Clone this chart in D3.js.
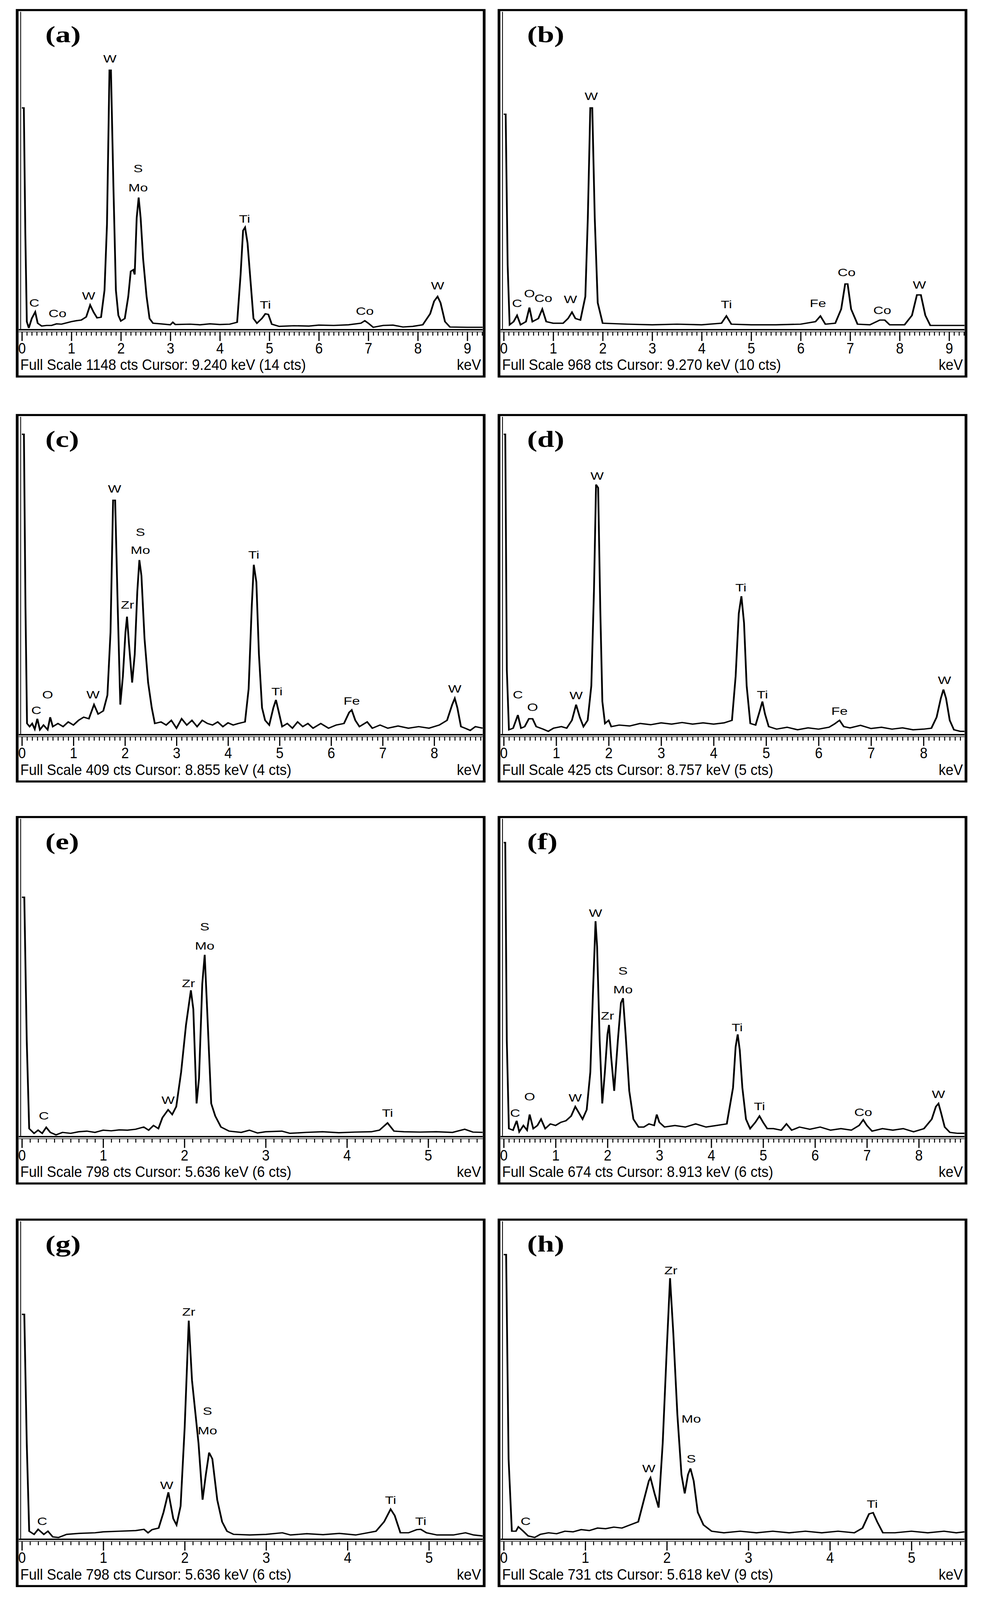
<!DOCTYPE html>
<html><head><meta charset="utf-8">
<script src="https://cdn.jsdelivr.net/npm/d3@7"></script>
<style>html,body{margin:0;background:#fff;overflow:hidden}svg{display:block}</style>
</head><body>
<script>
// Panel identifiers
const panelIds = ["a","b","c","d","e","f","g","h"];
// X-axis maximum (keV) visible in each panel
const xMax = [9.31, 9.31, 8.94, 8.78, 5.67, 8.88, 5.66, 5.65];
// Major tick labels per panel
const tickLabels = [
  [0,1,2,3,4,5,6,7,8,9],[0,1,2,3,4,5,6,7,8,9],
  [0,1,2,3,4,5,6,7,8],[0,1,2,3,4,5,6,7,8],
  [0,1,2,3,4,5],[0,1,2,3,4,5,6,7,8],
  [0,1,2,3,4,5],[0,1,2,3,4,5]];
// Footer texts
const footers = [
  "Full Scale 1148 cts  Cursor: 9.240 keV (14 cts)",
  "Full Scale 968 cts  Cursor: 9.270 keV (10 cts)",
  "Full Scale 409 cts  Cursor: 8.855 keV (4 cts)",
  "Full Scale 425 cts  Cursor: 8.757 keV (5 cts)",
  "Full Scale 798 cts  Cursor: 5.636 keV (6 cts)",
  "Full Scale 674 cts  Cursor: 8.913 keV (6 cts)",
  "Full Scale 798 cts  Cursor: 5.636 keV (6 cts)",
  "Full Scale 731 cts  Cursor: 5.618 keV (9 cts)"];

// Spectra: [energy keV, intensity % of full scale]
const specA = [[0,70],[0.04,70],[0.07,30],[0.1,2],[0.14,0],[0.2,3],[0.27,5.1],[0.32,1.5],[0.4,0.6],[0.5,0.8],[0.6,0.8],[0.7,1.3],[0.8,1.2],[0.9,1.6],[1.0,2],[1.1,2.3],[1.2,2.5],[1.3,3.5],[1.38,7.3],[1.45,5],[1.52,3.2],[1.6,3.4],[1.67,12],[1.72,33],[1.77,82],[1.8,82],[1.85,45],[1.9,12],[1.95,4],[2.0,2.2],[2.08,3],[2.15,10],[2.2,18],[2.25,18.5],[2.28,17],[2.32,35],[2.36,41.5],[2.4,35],[2.45,22],[2.52,10],[2.58,3],[2.65,1.5],[2.8,1.3],[3.0,1.0],[3.05,1.8],[3.1,1.1],[3.4,1.2],[3.6,1.0],[3.8,1.3],[4.0,1.1],[4.2,1.2],[4.35,1.8],[4.42,17],[4.47,31],[4.51,32],[4.56,27],[4.62,15],[4.68,3],[4.75,1.5],[4.85,3],[4.92,4.5],[4.98,4.3],[5.05,1.2],[5.2,0.5],[5.5,0.7],[5.8,0.6],[6.0,0.9],[6.3,0.8],[6.6,1.0],[6.85,1.5],[6.93,2.3],[7.0,1.5],[7.1,0.2],[7.3,0.8],[7.5,0.9],[7.7,0.3],[7.9,0.5],[8.1,1],[8.25,4.5],[8.33,8.5],[8.4,10],[8.46,8],[8.55,2],[8.65,0.3],[9.0,0.2],[9.31,0.2]];
const specB = [[0,68],[0.04,68],[0.08,20],[0.12,1],[0.2,2],[0.27,4],[0.34,1],[0.45,2],[0.52,6.5],[0.58,2],[0.7,3],[0.78,6],[0.86,2],[1.0,1.5],[1.2,1.5],[1.3,3],[1.38,5],[1.45,3],[1.55,2.5],[1.65,10],[1.7,35],[1.75,70],[1.79,70],[1.84,35],[1.9,8],[2.0,1.5],[2.5,1.2],[3.0,1],[3.5,1.2],[4.0,1],[4.4,1.5],[4.5,3.8],[4.6,1.2],[5.0,1],[5.5,1],[6.0,1.2],[6.3,2],[6.4,3.8],[6.5,1.2],[6.7,1.5],[6.82,6],[6.9,14],[6.95,14],[7.02,6],[7.15,1.2],[7.4,1],[7.6,2.5],[7.7,2.5],[7.8,1],[8.1,1],[8.25,4],[8.35,10.5],[8.43,10.5],[8.52,4],[8.62,0.8],[9.0,0.8],[9.31,0.8]];
const specC = [[0,95],[0.04,95],[0.07,40],[0.1,3],[0.15,2],[0.2,3],[0.25,1.2],[0.3,4.5],[0.35,1],[0.42,2.5],[0.5,1],[0.55,5],[0.6,2],[0.7,3],[0.8,2],[0.9,3.5],[1.0,2.5],[1.1,4],[1.2,5],[1.3,4.5],[1.4,9],[1.48,6],[1.58,7],[1.66,12],[1.72,32],[1.77,74],[1.81,74],[1.86,40],[1.91,9],[1.96,18],[2.01,32],[2.04,37],[2.08,28],[2.14,16],[2.19,25],[2.24,45],[2.28,55],[2.32,50],[2.38,30],[2.45,16],[2.52,8],[2.58,3],[2.7,3.5],[2.8,2.5],[2.9,4],[3.0,1.5],[3.1,4.5],[3.2,2.5],[3.3,4],[3.4,2],[3.5,4],[3.6,3],[3.7,2.5],[3.8,3.5],[3.9,2],[4.0,3.2],[4.1,2.5],[4.2,3],[4.33,3.5],[4.4,14],[4.46,40],[4.5,53.5],[4.55,48],[4.6,25],[4.66,8],[4.72,4],[4.8,2.5],[4.88,8],[4.93,10.5],[4.98,7],[5.05,2],[5.15,3],[5.25,1.5],[5.35,3.5],[5.45,2],[5.55,3],[5.65,1.5],[5.8,3],[5.95,1.5],[6.1,2.5],[6.25,3],[6.35,6.5],[6.4,7.3],[6.47,4],[6.55,2],[6.7,3.5],[6.8,1.5],[6.95,2.5],[7.1,1.5],[7.3,2.2],[7.5,1.5],[7.7,2],[7.9,1.5],[8.1,2.5],[8.25,4],[8.35,9],[8.4,11],[8.45,8],[8.52,2],[8.6,1.5],[8.7,0.8],[8.8,2],[8.94,1.5]];
const specD = [[0,95],[0.03,95],[0.06,20],[0.1,1],[0.18,1.5],[0.27,5.7],[0.33,1.5],[0.4,2],[0.48,4.5],[0.55,4.5],[0.62,2],[0.75,1.2],[0.85,0.5],[0.95,1.5],[1.1,2],[1.2,1.5],[1.3,4],[1.38,9],[1.45,5],[1.52,2],[1.6,4],[1.67,15],[1.72,45],[1.76,79],[1.8,78],[1.84,40],[1.88,10],[1.93,3],[2.0,4],[2.05,2],[2.2,2.5],[2.4,2.2],[2.6,3],[2.8,2.6],[3.0,3.2],[3.2,2.8],[3.4,3.3],[3.6,2.8],[3.8,3.2],[4.0,2.8],[4.2,3.2],[4.35,4],[4.42,18],[4.48,38],[4.53,43.5],[4.58,35],[4.63,15],[4.7,3],[4.8,2.5],[4.88,7],[4.93,10],[4.98,6],[5.05,2],[5.2,1.2],[5.4,1.8],[5.6,1],[5.8,1.6],[6.0,1.2],[6.2,1.8],[6.3,2.8],[6.4,4],[6.48,2],[6.6,1.6],[6.8,2.4],[7.0,1.4],[7.2,1.8],[7.4,1.2],[7.6,1.6],[7.8,1],[8.0,1.2],[8.15,1.5],[8.25,5],[8.33,11],[8.38,13.8],[8.43,11],[8.5,4],[8.58,1],[8.7,0.5],[8.78,0.5]];
const specE = [[0,75.6],[0.03,75.6],[0.06,30],[0.09,2],[0.15,0.5],[0.2,1.5],[0.25,0.5],[0.3,2.4],[0.35,0.8],[0.42,0],[0.5,0.8],[0.6,0.5],[0.7,1],[0.8,1.2],[0.9,0.8],[1.0,1.5],[1.1,1.3],[1.2,1.6],[1.3,1.5],[1.4,1.8],[1.5,2.5],[1.56,1.5],[1.62,3],[1.68,2],[1.73,5.5],[1.8,8],[1.85,6.5],[1.9,9],[1.96,20],[2.02,35],[2.08,46],[2.11,40],[2.15,10],[2.18,18],[2.22,48],[2.25,57.3],[2.28,40],[2.33,10],[2.38,6],[2.45,2.5],[2.55,1.2],[2.7,0.8],[2.8,1.5],[2.9,0.6],[3.0,1],[3.2,1.2],[3.3,0.5],[3.5,0.8],[3.7,1],[3.9,0.7],[4.1,0.9],[4.3,1],[4.4,1.5],[4.5,3.8],[4.58,1.2],[4.7,1],[4.9,0.9],[5.1,1],[5.3,0.8],[5.45,1.8],[5.55,0.9],[5.67,0.8]];
const specF = [[0,93],[0.03,93],[0.06,30],[0.1,2],[0.18,1.5],[0.25,4.5],[0.3,1],[0.38,3],[0.45,1.5],[0.5,6.5],[0.57,2],[0.65,3],[0.72,5],[0.8,2],[0.9,3.5],[1.0,3],[1.1,4],[1.2,4.5],[1.3,6],[1.38,9],[1.45,7],[1.52,5],[1.6,8],[1.67,20],[1.72,45],[1.77,68],[1.8,60],[1.85,30],[1.9,10],[1.95,20],[2.0,32],[2.03,35],[2.07,25],[2.13,14],[2.2,30],[2.26,42],[2.3,43.5],[2.35,32],[2.42,14],[2.5,5],[2.6,2.5],[2.7,2.5],[2.8,3.5],[2.9,3],[2.95,6.5],[3.0,4],[3.1,2.5],[3.3,3],[3.5,2.5],[3.7,3.5],[3.9,2.5],[4.1,3],[4.3,3.5],[4.42,15],[4.47,28],[4.51,32],[4.55,27],[4.6,15],[4.67,5],[4.75,2],[4.85,4],[4.93,6],[5.0,4],[5.08,2],[5.2,2],[5.35,1.5],[5.45,3.5],[5.55,1.5],[5.7,2.5],[5.9,1.8],[6.1,2.5],[6.3,1.5],[6.5,2],[6.7,1.5],[6.85,3],[6.93,4.8],[7.0,3],[7.1,1.2],[7.3,2],[7.5,1.5],[7.7,2],[7.9,1],[8.1,2],[8.25,5],[8.33,9],[8.38,10],[8.43,7],[8.5,2.5],[8.6,0.8],[8.75,0.5],[8.88,0.5]];
const specG = [[0,71],[0.03,71],[0.06,30],[0.09,2],[0.15,1],[0.2,2.6],[0.27,1],[0.32,2],[0.38,0.2],[0.45,0],[0.55,1],[0.7,1.3],[0.9,1.5],[1.0,1.8],[1.2,2],[1.4,2.2],[1.5,2.6],[1.55,1.5],[1.6,2.5],[1.68,3],[1.74,8],[1.8,14.4],[1.86,6],[1.9,4],[1.95,10],[2.0,35],[2.05,69],[2.09,50],[2.13,40],[2.17,30],[2.22,12],[2.26,20],[2.3,27],[2.34,25],[2.4,12],[2.46,5],[2.52,2],[2.6,1],[2.8,0.8],[3.0,1],[3.2,1.5],[3.3,0.8],[3.5,1.2],[3.7,0.9],[3.9,1.3],[4.1,0.8],[4.25,1.5],[4.35,2],[4.45,5],[4.53,9],[4.58,7],[4.65,1.5],[4.75,1.5],[4.85,2.5],[4.9,2.6],[4.97,1.5],[5.1,0.8],[5.3,0.8],[5.45,1.5],[5.55,0.8],[5.66,0.5]];
const specH = [[0,90],[0.03,90],[0.06,25],[0.1,2],[0.15,2],[0.18,3.4],[0.24,2],[0.3,0.5],[0.38,0],[0.45,1],[0.55,1.5],[0.65,1.2],[0.75,2],[0.85,1.8],[0.95,2.5],[1.05,2.2],[1.15,3],[1.25,2.8],[1.35,3.3],[1.45,3],[1.55,4],[1.65,5],[1.72,12],[1.78,18],[1.8,19],[1.85,14],[1.9,9.5],[1.95,30],[2.0,60],[2.04,82.5],[2.08,65],[2.13,39],[2.18,20],[2.22,14],[2.26,20],[2.29,22],[2.33,18],[2.38,8],[2.45,4],[2.55,2],[2.7,1.5],[2.9,2],[3.1,1.5],[3.3,2],[3.5,1.5],[3.7,2],[3.9,1.5],[4.1,2],[4.3,1.5],[4.4,3],[4.48,7.5],[4.53,7.9],[4.58,5],[4.65,1.5],[4.8,1.5],[5.0,2],[5.2,1.5],[5.4,2],[5.55,1.5],[5.65,1.8]];
const spectra = [specA, specB, specC, specD, specE, specF, specG, specH];

// Peak labels: [element, energy keV, label baseline height %]
const labelsA = [["C",0.25,6.8],["Co",0.72,3.4],["W",1.35,9],["W",1.78,84.5],["S",2.35,49.5],["Mo",2.35,43.5],["Ti",4.5,33.5],["Ti",4.92,6.2],["Co",6.93,4.2],["W",8.4,12.2]];
const labelsB = [["C",0.27,6.6],["O",0.52,9.8],["Co",0.8,8.3],["W",1.35,7.9],["W",1.77,72.5],["Ti",4.5,6.3],["Fe",6.35,6.6],["Co",6.93,16.5],["Co",7.65,4.4],["W",8.4,12.5]];
const labelsC = [["C",0.28,6],["O",0.5,11],["W",1.38,11],["W",1.8,76.5],["S",2.3,62.7],["Mo",2.3,57],["Zr",2.05,39.5],["Ti",4.5,55.5],["Ti",4.95,12],["Fe",6.4,9],["W",8.4,12.8]];
const labelsD = [["C",0.27,11],["O",0.55,7],["W",1.38,10.7],["W",1.78,80.5],["Ti",4.52,45],["Ti",4.93,11],["Fe",6.4,5.8],["W",8.4,15.6]];
const labelsE = [["C",0.27,4.9],["W",1.8,9.8],["Zr",2.05,47],["S",2.25,65],["Mo",2.25,59],["Ti",4.5,5.7]];
const labelsF = [["C",0.22,5.8],["O",0.5,11],["W",1.38,10.6],["W",1.77,69.4],["S",2.3,51],["Mo",2.3,45],["Zr",2.0,36.7],["Ti",4.5,33],["Ti",4.93,7.9],["Co",6.93,6],["W",8.38,11.7]];
const labelsG = [["C",0.25,4],["W",1.78,15.4],["Zr",2.05,70.6],["S",2.28,39],["Mo",2.28,32.8],["Ti",4.53,10.7],["Ti",4.9,4]];
const labelsH = [["C",0.27,4],["W",1.78,20.8],["Zr",2.05,83.8],["Mo",2.3,36.5],["S",2.3,23.9],["Ti",4.52,9.5]];
const peakLabels = [labelsA, labelsB, labelsC, labelsD, labelsE, labelsF, labelsG, labelsH];

const W = 2515, H = 5401;
const colX = [44, 1278], rowY = [34, 1401, 2758, 4117];
const boxW = 1196, boxH = 1237, axisOff = 1079;
const narrow = "Liberation Sans Narrow, Liberation Sans, Arial, sans-serif";

// The drawing is laid out in 2515x5401 units and fitted to the visible window.
const vw = window.innerWidth || W, vh = window.innerHeight || H;
const svg = d3.select("body").append("svg")
  .attr("width", vw).attr("height", Math.min(vh, H))
  .attr("viewBox", `0 0 ${W} ${H}`).attr("preserveAspectRatio", "none")
  .style("background", "#fff");

panelIds.forEach((id, i) => {
  const bx = colX[i % 2], by = rowY[Math.floor(i / 2)];
  const g = svg.append("g").attr("transform", `translate(${bx},${by})`);
  const x0 = 12, x1 = boxW - 4;
  const axisY = axisOff;
  const x = d3.scaleLinear().domain([0, xMax[i]]).range([x0, x1]);
  const y = d3.scaleLinear().domain([0, 100]).range([axisY - 6, 12]);

  g.append("rect").attr("x", 0).attr("y", 0).attr("width", boxW).attr("height", boxH)
    .attr("fill", "#fff").attr("stroke", "#000").attr("stroke-width", 7);
  g.append("line").attr("x1", x0 - 3).attr("x2", x0 - 3).attr("y1", 6).attr("y2", axisY)
    .attr("stroke", "#000").attr("stroke-width", 2);

  g.append("path").datum(spectra[i])
    .attr("d", d3.line().x(d => x(d[0])).y(d => y(d[1])))
    .attr("fill", "none").attr("stroke", "#000").attr("stroke-width", 4.5)
    .attr("stroke-linejoin", "miter");

  g.append("line").attr("x1", 4).attr("x2", boxW - 4).attr("y1", axisY).attr("y2", axisY)
    .attr("stroke", "#000").attr("stroke-width", 5);
  g.append("line").attr("x1", 4).attr("x2", boxW - 4).attr("y1", axisY + 7).attr("y2", axisY + 7)
    .attr("stroke", "#000").attr("stroke-width", 2);
  const minor = d3.range(0, Math.floor(xMax[i] * 10 + 1e-6) + 1).map(k => k / 10);
  g.append("g").attr("transform", `translate(0,${axisY + 8})`)
    .call(d3.axisBottom(x).tickValues(minor).tickSize(12).tickFormat(""))
    .call(s => s.select(".domain").remove())
    .call(s => s.selectAll("line").attr("stroke-width", 2.5));
  g.append("g").attr("transform", `translate(0,${axisY + 8})`)
    .call(d3.axisBottom(x).tickValues(tickLabels[i]).tickSize(30).tickFormat(d3.format("d")))
    .call(s => s.select(".domain").remove())
    .call(s => s.selectAll("line").attr("stroke-width", 3))
    .call(s => s.selectAll("text").attr("font-family", narrow)
      .attr("font-size", 50).attr("fill", "#000").attr("y", 0).attr("dy", null)
      .attr("transform", "translate(0,72) scale(0.7,1)"));

  g.append("text").attr("transform", `translate(8,${axisY + 136}) scale(0.72,1)`)
    .attr("font-family", narrow).attr("font-size", 50)
    .text(footers[i]);
  g.append("text").attr("transform", `translate(${boxW - 8},${axisY + 136}) scale(0.72,1)`)
    .attr("text-anchor", "end")
    .attr("font-family", narrow).attr("font-size", 50)
    .text("keV");

  g.append("g").selectAll("text").data(peakLabels[i]).join("text")
    .attr("x", d => x(d[1])).attr("y", d => y(d[2]))
    .attr("text-anchor", "middle")
    .attr("font-family", "Liberation Sans, Arial, sans-serif").attr("font-size", 36)
    .text(d => d[0]);

  g.append("text").attr("x", 72).attr("y", 108)
    .attr("font-family", "Liberation Serif, Times New Roman, serif").attr("font-weight", "bold")
    .attr("font-size", 78).text(`(${id})`);
});
</script>
</body></html>
